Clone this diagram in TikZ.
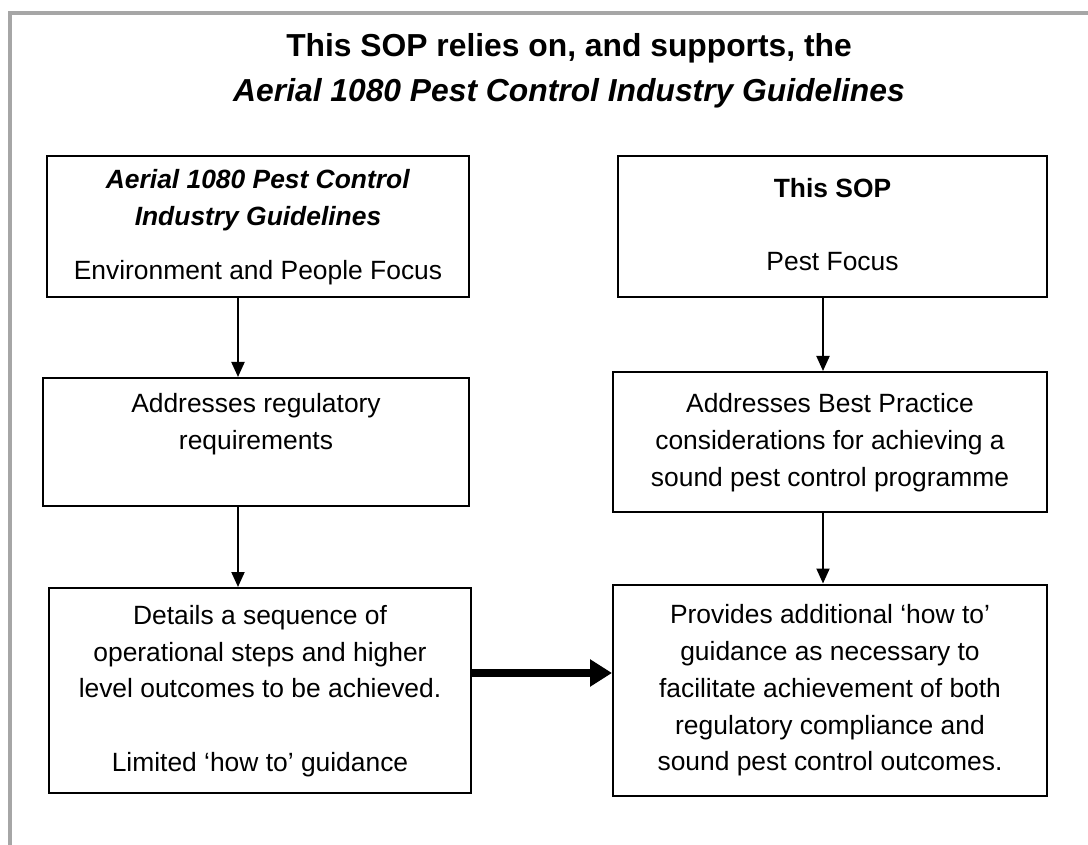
\documentclass[tikz,border=0pt]{standalone}
\usepackage{fontspec}
\setmainfont{Liberation Sans}
\usetikzlibrary{arrows.meta}

\begin{document}
\begin{tikzpicture}[x=0.5pt, y=-0.5pt,
    box/.style={draw, line width=1pt, inner sep=0pt, font=\fontsize{13.2pt}{18.35pt}\selectfont},
    flow/.style={line width=1pt, -{Triangle[length=7.5pt, width=6.5pt]}},
    bigflow/.style={line width=4pt, -{Triangle[length=11pt, width=13pt]}}]
    \useasboundingbox (0,0) rectangle (1088,845);
    % moldura cinzenta
    \draw[line width=2pt, gray!70] (10,847) -- (10,13) -- (1090,13);

    % titulo
    \node[font=\fontsize{15.9pt}{22.5pt}\selectfont\bfseries] (title) at (569,70.5)
        {\begin{tabular}{c}This SOP relies on, and supports, the\\\textit{Aerial 1080 Pest Control Industry Guidelines}\end{tabular}};

    % coluna esquerda
    \node[box, minimum width=211pt, minimum height=70.5pt] (guide) at (258,226.5)
        {\begin{tabular}{c}\textbf{\textit{Aerial 1080 Pest Control}}\\\textbf{\textit{Industry Guidelines}}\\[8.5pt]Environment and People Focus\end{tabular}};
    \node[box, minimum width=213pt, minimum height=64pt] (regs) at (256,442)
        {\begin{tabular}{c}Addresses regulatory\\requirements\\~\end{tabular}};
    \node[box, minimum width=211pt, minimum height=102.5pt] (details) at (260,690.5)
        {\begin{tabular}{c}Details a sequence of\\operational steps and higher\\level outcomes to be achieved.\\ \\Limited ‘how to’ guidance\end{tabular}};

    % coluna direita
    \node[box, minimum width=214.5pt, minimum height=70.5pt] (sop) at (832.5,226.5)
        {\begin{tabular}{c}\textbf{This SOP}\\ \\Pest Focus\end{tabular}};
    \node[box, minimum width=217pt, minimum height=70pt] (best) at (830,442)
        {\begin{tabular}{c}Addresses Best Practice\\considerations for achieving a\\sound pest control programme\end{tabular}};
    \node[box, minimum width=217pt, minimum height=105.5pt] (provides) at (830,690)
        {\begin{tabular}{c}Provides additional ‘how to’\\guidance as necessary to\\facilitate achievement of both\\regulatory compliance and\\sound pest control outcomes.\end{tabular}};

    \coordinate (colL) at (238,0);
    \coordinate (colR) at (823,0);
    \coordinate (rowT) at (0,673);

    \draw[flow] (guide.south -| colL) -- (regs.north -| colL);
    \draw[flow] (regs.south -| colL) -- (details.north -| colL);
    \draw[flow] (sop.south -| colR) -- (best.north -| colR);
    \draw[flow] (best.south -| colR) -- (provides.north -| colR);
    \draw[bigflow] (details.east |- rowT) -- (provides.west |- rowT);
\end{tikzpicture}
\end{document}
